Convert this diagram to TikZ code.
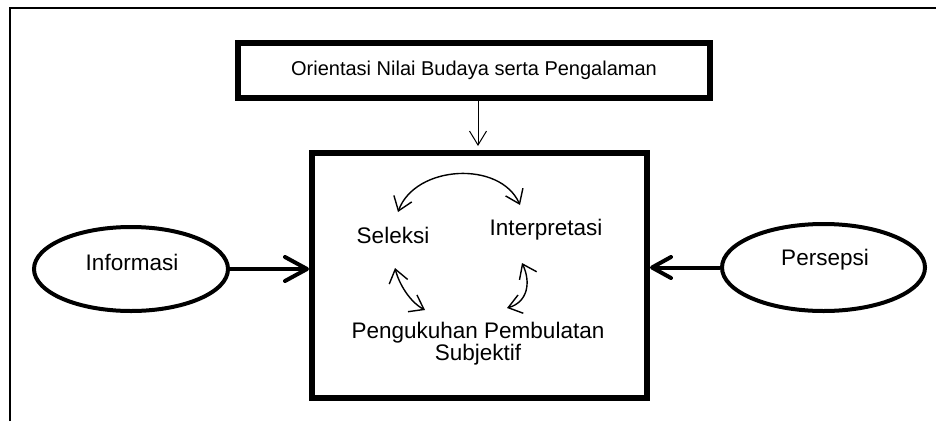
\documentclass[tikz,border=0pt]{standalone}
\usepackage{fontspec}
\setmainfont{Liberation Sans}
\usetikzlibrary{arrows.meta,shapes.geometric,calc}
\begin{document}
\begin{tikzpicture}[x=1pt,y=-1pt,
  txt/.style={font=\fontsize{22.5}{22.5}\selectfont, inner sep=0pt, anchor=base},
  bigbox/.style={draw, line width=6pt, inner sep=0pt},
  oval/.style={draw, ellipse, line width=4pt, inner sep=0pt},
  thin arrow/.style={line width=1pt, -{Straight Barb[length=14pt,width=17pt]}},
  cycle arrow/.style={line width=1.4pt,
    {Straight Barb[length=13pt,width=19pt]}-{Straight Barb[length=13pt,width=19pt]}},
  feed arrow/.style={line width=4pt, -{Straight Barb[length=22pt,width=24pt,round]}},
  feed arrow small/.style={line width=4pt, -{Straight Barb[length=19pt,width=21pt,round]}}
]
\useasboundingbox (0,0) rectangle (936,421);

% outer frame (top and left edges only)
\draw[line width=1.5pt] (10,421) -- (10,8) -- (936,8);

% header box
\node[bigbox, minimum width=472pt, minimum height=55pt,
      font=\fontsize{20}{20}\selectfont] (orient) at (474,70.5)
  {Orientasi Nilai Budaya serta Pengalaman};

% central process box
\node[bigbox, minimum width=335pt, minimum height=245pt] (main) at (479.5,275.5) {};

% side ellipses
\node[oval, minimum width=194pt, minimum height=84pt] (inf) at (131,269) {};
\node[oval, minimum width=203pt, minimum height=87pt] (per) at (823.5,267.5) {};
\node[txt] (inftxt) at (132,270) {Informasi};
\node[txt] (pertxt) at (825,265) {Persepsi};

% labels inside the process box
\node[txt] (sel)  at (393,243) {Seleksi};
\node[txt] (int)  at (546,235) {Interpretasi};
\node[txt] (peng) at (478,338) {Pengukuhan Pembulatan};
\node[txt] (subj) at (478,360) {Subjektif};

% inputs
\draw[thin arrow, shorten >=4pt] ([xshift=4pt]orient.south) -- ([xshift=-1.5pt]main.north);
\draw[feed arrow] (inf.east) -- (inf.east -| main.west);
\draw[feed arrow small] (per.west) -- (per.west -| main.east);

% cycle between the three steps
\draw[cycle arrow] ([shift={(5,-31)}]sel.base)
  .. controls +(17,-47) and +(-20,-45) .. ([shift={(-26,-30)}]int.base);
\draw[cycle arrow] ([shift={(2,25)}]sel.base)
  .. controls +(4,16) and +(-15,-8) .. ([shift={(-53,-28)}]peng.base);
\draw[cycle arrow] ([shift={(-24,28)}]int.base)
  .. controls +(9,19) and +(21,-6) .. ([shift={(29,-30)}]peng.base);
\end{tikzpicture}
\end{document}
